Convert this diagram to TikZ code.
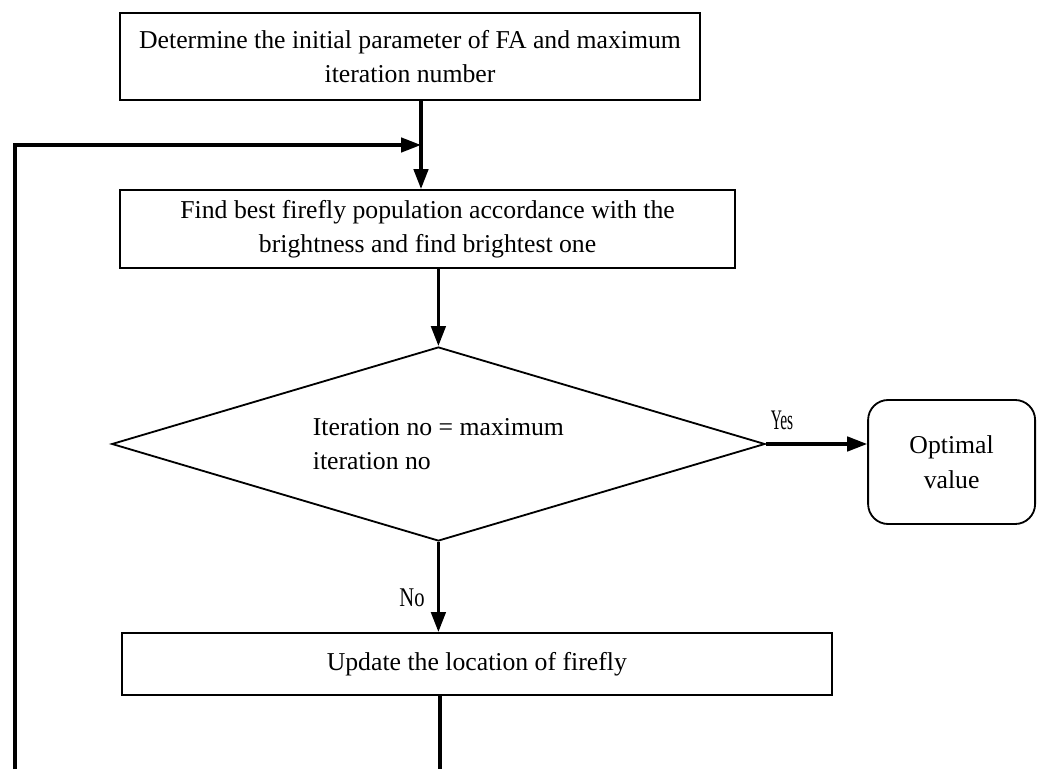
\documentclass[tikz,border=0pt]{standalone}
\usepackage{fontspec}
\setmainfont{Liberation Serif}
\usetikzlibrary{arrows.meta, shapes.geometric}

\begin{document}
\begin{tikzpicture}[
  font=\fontsize{18.3}{24.5}\selectfont,
  box/.style={draw, line width=1.3pt, align=center, inner sep=0pt},
  decision/.style={draw, diamond, line width=1.3pt, align=left, inner sep=0pt, shape aspect=3.37, minimum width=16.33cm, minimum height=4.85cm},
  terminal/.style={box, rounded corners=0.5cm},
  arr/.style={-{Triangle[length=0.5cm, width=0.36cm]}, line width=2.4pt},
  line/.style={line width=2.4pt},
  lbl/.style={inner sep=0pt}
]
\useasboundingbox (0,0) rectangle (26.05,19.225);

% main column
\node[box, minimum width=14.5cm, minimum height=2.175cm] (init) at (10.25,17.81) {Determine the initial parameter of FA and maximum\\iteration number};
\node[box, minimum width=15.375cm, minimum height=1.95cm] (best) at (10.69,13.5) {Find best firefly population accordance with the\\brightness and find brightest one};
\node[decision] (check) at (10.96,8.125) {Iteration no = maximum\\iteration no};
\node[box, minimum width=17.75cm, minimum height=1.55cm] (update) at (11.92,2.625) {Update the location of firefly};

% exit
\node[terminal, minimum width=4.175cm, minimum height=3.1cm] (opt) at (23.79,7.675) {Optimal\\value};

% loop points
\coordinate (join) at (10.525,15.6);
\coordinate (loopL) at (0.375,0);
\coordinate (loopB) at (11.0,0);

\draw[arr] (init.south -| join) -- (best.north -| join);
\draw[arr] (best.south -| check.north) -- (check.north);
\draw[arr] (check.east) -- (check.east -| opt.west);
\draw[arr] (check.south) -- (check.south |- update.north);
\draw[line] (update.south -| loopB) -- (loopB);
\draw[arr] (loopL) |- (join);

% labels
\node[lbl] (yes) at (19.55,8.72) {\scalebox{0.6}[1.1]{Yes}};
\node[lbl] (no) at (10.3,4.28) {\scalebox{0.8}[1.05]{No}};

\end{tikzpicture}
\end{document}
